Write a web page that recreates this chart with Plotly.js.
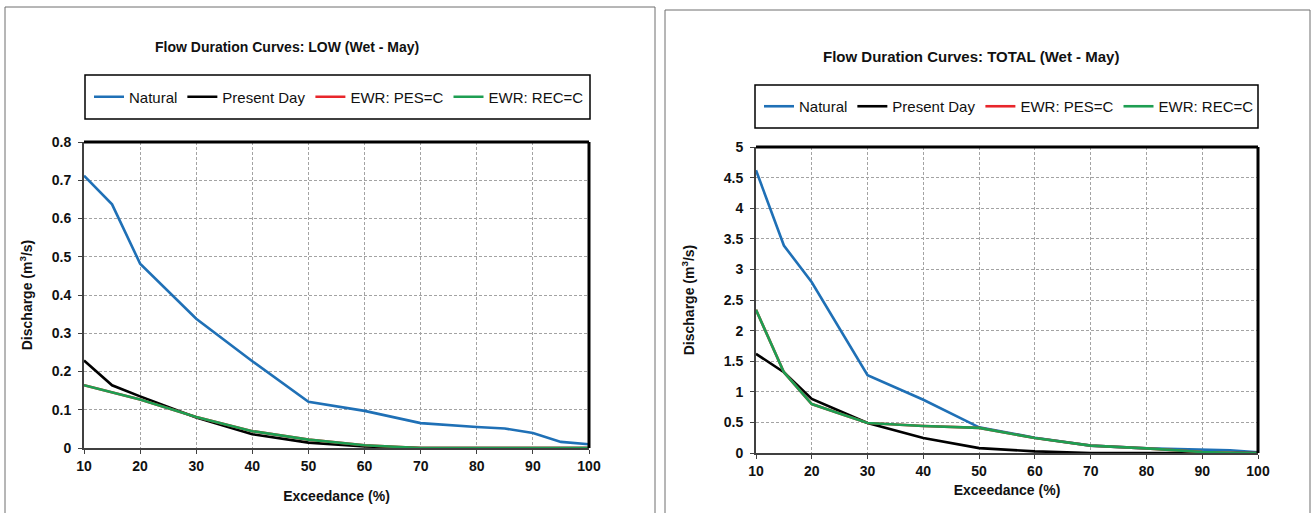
<!DOCTYPE html>
<html>
<head>
<meta charset="utf-8">
<script src="https://cdn.plot.ly/plotly-3.0.1.min.js"></script>
<style>
html,body{margin:0;padding:0;background:#fff;}
#chart{width:1315px;height:513px;}
</style>
</head>
<body>
<div id="chart"></div>
<script>
// ---- data ----
var exceedance = [10, 15, 20, 30, 40, 50, 60, 70, 80, 85, 90, 95, 100];

// LOW (Wet - May)
var lowNatural    = [0.712, 0.637, 0.482, 0.338, 0.227, 0.121, 0.097, 0.065, 0.055, 0.051, 0.039, 0.016, 0.010];
var lowPresentDay = [0.229, 0.164, 0.135, 0.080, 0.036, 0.014, 0.004, 0.000, 0.000, 0.000, 0.000, 0.000, 0.000];
var lowEwrPes     = [0.164, 0.146, 0.127, 0.081, 0.044, 0.022, 0.007, 0.000, 0.000, 0.000, 0.000, 0.000, 0.000];
var lowEwrRec     = [0.164, 0.146, 0.127, 0.081, 0.044, 0.022, 0.007, 0.000, 0.000, 0.000, 0.000, 0.000, 0.000];

// TOTAL (Wet - May)
var totNatural    = [4.62, 3.39, 2.79, 1.27, 0.87, 0.42, 0.25, 0.12, 0.075, 0.062, 0.055, 0.045, 0.010];
var totPresentDay = [1.62, 1.32, 0.885, 0.49, 0.245, 0.08, 0.027, 0.000, 0.000, 0.000, 0.000, 0.000, 0.000];
var totEwrPes     = [2.34, 1.32, 0.80, 0.49, 0.44, 0.41, 0.245, 0.12, 0.075, 0.045, 0.016, 0.005, 0.000];
var totEwrRec     = [2.34, 1.32, 0.80, 0.49, 0.44, 0.41, 0.245, 0.12, 0.075, 0.045, 0.016, 0.005, 0.000];

var seriesNames = ["Natural", "Present Day", "EWR: PES=C", "EWR: REC=C"];
var seriesColors = ["#1F70B6", "#000000", "#E8262B", "#1E9E52"];
var xTickVals = [10, 20, 30, 40, 50, 60, 70, 80, 90, 100];

var titleLow = "Flow Duration Curves: LOW (Wet - May)";
var titleTotal = "Flow Duration Curves: TOTAL (Wet - May)";
var xTitle = "Exceedance (%)";
var yTitle = "Discharge (m<sup>3</sup>/s)";

// ---- build ----
var W = 1315, H = 513;
function px(x){ return x / W; }
function py(y){ return (H - y) / H; }

var FONT = "Liberation Sans, Arial, Helvetica, sans-serif";

function mk(x, y, i, xa, ya, leg){
  return {
    x: x, y: y, name: seriesNames[i], type: "scatter", mode: "lines",
    line: {color: seriesColors[i], width: 2.6},
    xaxis: xa, yaxis: ya, legend: leg, hoverinfo: "x+y+name"
  };
}

var lowSets = [lowNatural, lowPresentDay, lowEwrPes, lowEwrRec];
var totSets = [totNatural, totPresentDay, totEwrPes, totEwrRec];
var traces = [];
for (var i = 0; i < 4; i++) traces.push(mk(exceedance, lowSets[i], i, "x", "y", "legend"));
for (var j = 0; j < 4; j++) traces.push(mk(exceedance, totSets[j], j, "x2", "y2", "legend2"));

function xAxis(dom, anchor, standoff){
  return {
    domain: dom, anchor: anchor, range: [10, 100], tickvals: xTickVals,
    showgrid: true, gridcolor: "#a3a3a3", griddash: "3px,2px", gridwidth: 1,
    zeroline: false, showline: true, linecolor: "#404040", linewidth: 2,
    ticks: "outside", ticklen: 4, tickcolor: "#404040",
    tickfont: {family: FONT, size: 14, color: "#111", weight: "bold"},
    title: {text: xTitle, font: {family: FONT, size: 14, color: "#111", weight: "bold"}, standoff: standoff},
    fixedrange: true
  };
}
function yAxis(dom, anchor, rng, dt, standoff){
  return {
    domain: dom, anchor: anchor, range: rng, dtick: dt, tick0: 0,
    showgrid: true, gridcolor: "#a3a3a3", griddash: "3px,2px", gridwidth: 1,
    zeroline: false, showline: true, linecolor: "#404040", linewidth: 2,
    ticks: "outside", ticklen: 4, tickcolor: "#404040", ticklabelstandoff: 4,
    tickfont: {family: FONT, size: 14, color: "#111", weight: "bold"},
    title: {text: yTitle, font: {family: FONT, size: 14, color: "#111", weight: "bold"}, standoff: standoff},
    fixedrange: true
  };
}

var layout = {
  width: W, height: H,
  margin: {l: 0, r: 0, t: 0, b: 0},
  paper_bgcolor: "#fff", plot_bgcolor: "#fff",
  font: {family: FONT, color: "#111"},
  showlegend: true,
  xaxis: xAxis([px(84), px(589)], "y", 18),
  yaxis: yAxis([py(448), py(142)], "x", [0, 0.8], 0.1, 16),
  xaxis2: xAxis([px(756), px(1258)], "y2", 7),
  yaxis2: yAxis([py(453), py(147)], "x2", [0, 5], 0.5, 26),
  legend: {
    orientation: "h", x: px(89), xanchor: "left", y: py(97), yanchor: "middle",
    bgcolor: "rgba(0,0,0,0)", borderwidth: 0,
    font: {family: FONT, size: 15, color: "#111"}, itemwidth: 30
  },
  legend2: {
    orientation: "h", x: px(759), xanchor: "left", y: py(106.5), yanchor: "middle",
    bgcolor: "rgba(0,0,0,0)", borderwidth: 0,
    font: {family: FONT, size: 15, color: "#111"}, itemwidth: 30
  },
  annotations: [
    {text: titleLow, xref: "paper", yref: "paper", x: px(287), y: py(47), xanchor: "center", yanchor: "middle",
     showarrow: false, font: {family: FONT, size: 14, color: "#111", weight: "bold"}},
    {text: titleTotal, xref: "paper", yref: "paper", x: px(971), y: py(56), xanchor: "center", yanchor: "middle",
     showarrow: false, font: {family: FONT, size: 15, color: "#111", weight: "bold"}}
  ],
  shapes: [
    // panel borders
    {type: "rect", xref: "paper", yref: "paper", x0: px(5), x1: px(655), y0: -0.05, y1: py(7),
     line: {color: "#6f6f6f", width: 1}, layer: "below"},
    {type: "rect", xref: "paper", yref: "paper", x0: px(665), x1: px(1310), y0: -0.05, y1: py(10),
     line: {color: "#6f6f6f", width: 1}, layer: "below"},
    // legend boxes
    {type: "rect", xref: "paper", yref: "paper", x0: px(85), x1: px(590), y0: py(119), y1: py(75),
     line: {color: "#000", width: 1.5}},
    {type: "rect", xref: "paper", yref: "paper", x0: px(755), x1: px(1258), y0: py(128), y1: py(85),
     line: {color: "#000", width: 1.5}},
    // plot area top/right edges
    {type: "line", xref: "x domain", yref: "y domain", x0: 0, x1: 1, y0: 1, y1: 1, line: {color: "#000", width: 3}},
    {type: "line", xref: "x domain", yref: "y domain", x0: 1, x1: 1, y0: 0, y1: 1, line: {color: "#000", width: 3}},
    {type: "line", xref: "x2 domain", yref: "y2 domain", x0: 0, x1: 1, y0: 1, y1: 1, line: {color: "#000", width: 3}},
    {type: "line", xref: "x2 domain", yref: "y2 domain", x0: 1, x1: 1, y0: 0, y1: 1, line: {color: "#000", width: 3}}
  ]
};

Plotly.newPlot("chart", traces, layout, {staticPlot: true, displayModeBar: false});
</script>
</body>
</html>
